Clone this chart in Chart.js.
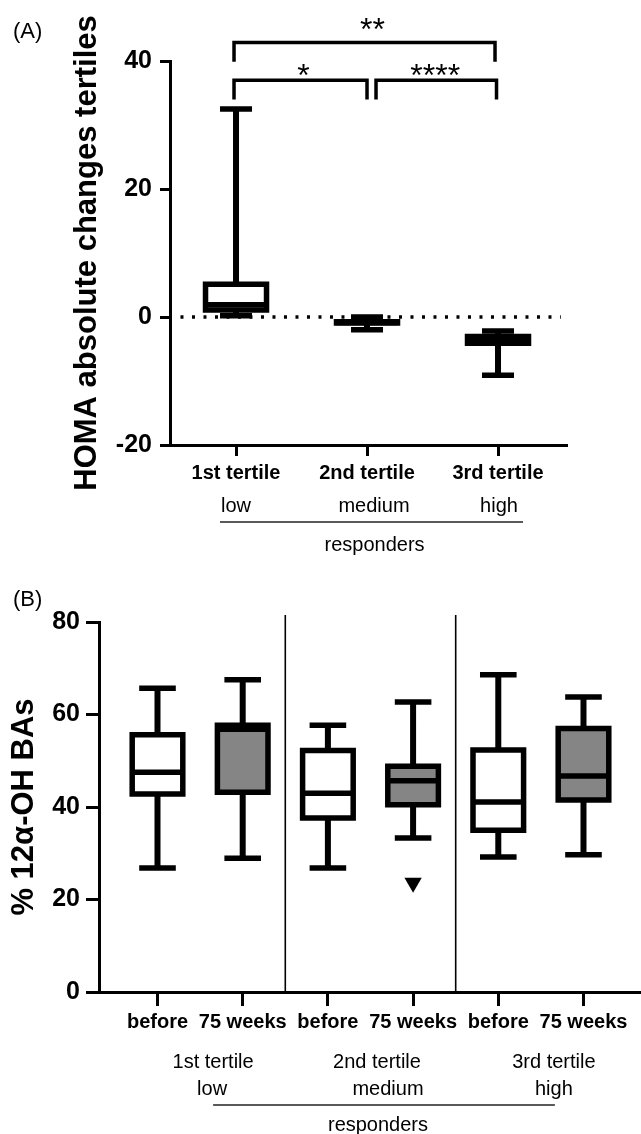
<!DOCTYPE html>
<html>
<head>
<meta charset="utf-8">
<script src="https://cdn.jsdelivr.net/npm/chart.js@4.4.0/dist/chart.umd.min.js"></script>
<style>
html,body{margin:0;padding:0;background:#fff;}
#wrap{position:relative;width:641px;height:1134px;overflow:hidden;background:#fff;}
canvas{position:absolute;left:0;}
#cA{top:0;}
#cB{top:560px;}
</style>
</head>
<body>
<div id="wrap">
<canvas id="cA" width="641" height="560"></canvas>
<canvas id="cB" width="641" height="574"></canvas>
</div>
<script>
// ---------- Panel A data: HOMA absolute changes by tertile ----------
const tertiles = ['1st tertile', '2nd tertile', '3rd tertile'];
const responderLevels = ['low', 'medium', 'high'];
const homaMin    = [0.2, -2.0, -9.1];
const homaQ1     = [1.1, -0.95, -4.1];
const homaMedian = [1.9, -0.85, -3.6];
const homaQ3     = [5.1, -0.75, -3.05];
const homaMax    = [32.5, 0.0, -2.2];
const homaTicks  = [-20, 0, 20, 40];
const comparisonFrom  = [1, 1, 2];
const comparisonTo    = [3, 2, 3];
const comparisonLabel = ['**', '*', '****'];

// ---------- Panel B data: % 12α-OH BAs ----------
const timepoints = ['before', '75 weeks', 'before', '75 weeks', 'before', '75 weeks'];
const tertileGroups = ['1st tertile', '2nd tertile', '3rd tertile'];
const baMin    = [26.8, 28.9, 26.8, 33.3, 29.2, 29.7];
const baQ1     = [42.8, 43.2, 37.6, 40.5, 35.0, 41.5];
const baMedian = [47.5, 56.8, 43.0, 45.7, 41.1, 46.7];
const baQ3     = [55.6, 57.7, 52.2, 48.8, 52.3, 57.0];
const baMax    = [65.7, 67.5, 57.7, 62.7, 68.6, 63.8];
const baOutlierGroup = [4];
const baOutlierValue = [23.6];
const baTicks  = [0, 20, 40, 60, 80];

// ---------- styling ----------
const FONT = "'Liberation Sans', Arial, Helvetica, sans-serif";
const GRAY = '#858585';
Chart.defaults.color = '#000';
Chart.defaults.font.family = FONT;

function boxplotDatasets(mins, q1s, meds, q3s, maxs, g) {
  const xs = mins.map((_, i) => i + 1);
  const whisk = [], caps = [], outline = [], med = [];
  xs.forEach((x, i) => {
    whisk.push({x, y: q3s[i]}, {x, y: maxs[i]}, {x, y: null},
               {x, y: q1s[i]}, {x, y: mins[i]}, {x, y: null});
    caps.push({x: x - g.cap, y: maxs[i]}, {x: x + g.cap, y: maxs[i]}, {x, y: null},
              {x: x - g.cap, y: mins[i]}, {x: x + g.cap, y: mins[i]}, {x, y: null});
    outline.push({x: x - g.hw, y: q1s[i]}, {x: x - g.hw, y: q3s[i]}, {x: x + g.hw, y: q3s[i]},
                 {x: x + g.hw, y: q1s[i]}, {x: x - g.hw, y: q1s[i]}, {x, y: null});
    med.push({x: x - g.hw, y: meds[i]}, {x: x + g.hw, y: meds[i]}, {x, y: null});
  });
  const line = (data, width, order, capStyle) => ({
    type: 'line', data, borderColor: '#000', borderWidth: width,
    pointRadius: 0, pointHoverRadius: 0, fill: false, tension: 0,
    spanGaps: false, borderCapStyle: capStyle || 'butt', borderJoinStyle: 'miter', order
  });
  return [
    {type: 'bar', data: xs.map((x, i) => ({x, y: [q1s[i], q3s[i]]})),
     backgroundColor: xs.map((_, i) => g.fill(i)), borderWidth: 0,
     barThickness: g.thickness, order: 40},
    line(whisk, g.wlw, 30),
    line(outline, g.lw, 20, 'square'),
    line(med, g.lw, 10),
    line(caps, g.lw, 10)
  ];
}

function axisCommon(extra) {
  return Object.assign({
    border: {display: true, color: '#000', width: 3},
    grid: {drawOnChartArea: false, drawTicks: true, color: '#000', lineWidth: 3, offset: false}
  }, extra);
}

// ---------------- Chart A ----------------
const xMinA = 0.496, xMaxA = 3.519;
const annotA = {
  id: 'annotA',
  afterDraw(chart) {
    const {ctx, chartArea: ca, scales: {x, y}} = chart;
    ctx.save();
    ctx.fillStyle = '#000';
    ctx.strokeStyle = '#000';
    // panel letter
    ctx.font = `22px ${FONT}`;
    ctx.textAlign = 'left';
    ctx.textBaseline = 'middle';
    ctx.fillText('(A)', 13, 32);
    // y-axis title
    ctx.save();
    ctx.translate(96, (ca.top + ca.bottom) / 2);
    ctx.rotate(-Math.PI / 2);
    ctx.font = `bold 31px ${FONT}`;
    ctx.textAlign = 'center';
    ctx.textBaseline = 'alphabetic';
    ctx.fillText('HOMA absolute changes tertiles', 0, 0);
    ctx.restore();
    // significance brackets
    const levels = [42.9, 37.0, 37.0];
    const legDrop = 3.0;
    const offs = [[-2, -3], [-2, 0], [9, -1.5]];
    const starDx = [8, 3, -1];
    const starDy = [-20, -12.5, -12];
    ctx.lineWidth = 3.5;
    ctx.lineCap = 'butt';
    ctx.lineJoin = 'miter';
    comparisonFrom.forEach((f, i) => {
      const x1 = x.getPixelForValue(f) + offs[i][0];
      const x2 = x.getPixelForValue(comparisonTo[i]) + offs[i][1];
      const yt = y.getPixelForValue(levels[i]);
      const yl = y.getPixelForValue(levels[i] - legDrop);
      ctx.beginPath();
      ctx.moveTo(x1, yl); ctx.lineTo(x1, yt); ctx.lineTo(x2, yt); ctx.lineTo(x2, yl);
      ctx.stroke();
      ctx.font = `32px ${FONT}`;
      ctx.textAlign = 'center';
      ctx.textBaseline = 'alphabetic';
      ctx.fillText(comparisonLabel[i], (x1 + x2) / 2 + starDx[i], yt + starDy[i] + 18);
    });
    // responder level labels
    ctx.font = `20px ${FONT}`;
    ctx.textAlign = 'center';
    ctx.textBaseline = 'middle';
    const lvlDx = [0, 7, 1];
    responderLevels.forEach((t, i) => {
      ctx.fillText(t, x.getPixelForValue(i + 1) + lvlDx[i], ca.bottom + 61);
    });
    const lx1 = x.getPixelForValue(1) - 16, lx2 = x.getPixelForValue(3) + 25;
    ctx.strokeStyle = '#222';
    ctx.lineWidth = 1.5;
    ctx.beginPath();
    ctx.moveTo(lx1, ca.bottom + 77); ctx.lineTo(lx2, ca.bottom + 77);
    ctx.stroke();
    ctx.fillText('responders', (lx1 + lx2) / 2 + 3, ca.bottom + 100);
    ctx.restore();
  }
};

const dsA = boxplotDatasets(homaMin, homaQ1, homaMedian, homaQ3, homaMax, {
  hw: 30.5 / 131, cap: 16 / 131, lw: 5.5, wlw: 6, thickness: 61, fill: () => '#fff'
});
dsA.push({
  type: 'line', data: [{x: xMinA + 0.08, y: 0}, {x: xMaxA - 0.04, y: 0}],
  borderColor: '#000', borderWidth: 3.5, borderDash: [3, 8.5], borderCapStyle: 'butt',
  pointRadius: 0, fill: false, order: 50
});

new Chart(document.getElementById('cA'), {
  type: 'bar',
  data: {datasets: dsA},
  options: {
    responsive: false, animation: false,
    layout: {autoPadding: false, padding: {left: 0, top: 61, right: 75, bottom: 0}},
    plugins: {legend: {display: false}, tooltip: {enabled: false}},
    scales: {
      x: axisCommon({
        type: 'linear', min: xMinA, max: xMaxA, offset: false,
        grid: {drawOnChartArea: false, drawTicks: true, color: '#000', lineWidth: 3, offset: false, tickLength: 11},
        afterBuildTicks: s => { s.ticks = tertiles.map((_, i) => ({value: i + 1})); },
        afterFit: s => { s.height = 115; s.paddingLeft = 0; s.paddingRight = 0; },
        ticks: {autoSkip: false, maxRotation: 0, minRotation: 0, padding: 5,
                font: {size: 20, weight: 'bold', family: FONT}, color: '#000',
                callback: v => tertiles[v - 1]}
      }),
      y: axisCommon({
        type: 'linear', min: -20, max: 40,
        grid: {drawOnChartArea: false, drawTicks: true, color: '#000', lineWidth: 3, tickLength: 10},
        afterBuildTicks: s => { s.ticks = homaTicks.map(v => ({value: v})); },
        afterFit: s => { s.width = 170; s.paddingTop = 0; s.paddingBottom = 0; },
        ticks: {padding: 8, font: {size: 25, weight: 'bold', family: FONT}, color: '#000',
                callback: v => String(v)}
      })
    }
  },
  plugins: [annotA]
});

// ---------------- Chart B ----------------
const xMinB = 0.3134, xMaxB = 6.675;
const annotB = {
  id: 'annotB',
  afterDraw(chart) {
    const {ctx, chartArea: ca, scales: {x, y}} = chart;
    ctx.save();
    ctx.fillStyle = '#000';
    ctx.strokeStyle = '#000';
    ctx.font = `22px ${FONT}`;
    ctx.textAlign = 'left';
    ctx.textBaseline = 'middle';
    ctx.fillText('(B)', 13, 40);
    // y-axis title
    ctx.save();
    ctx.translate(33, (ca.top + ca.bottom) / 2);
    ctx.rotate(-Math.PI / 2);
    ctx.font = `bold 31px ${FONT}`;
    ctx.textAlign = 'center';
    ctx.textBaseline = 'alphabetic';
    ctx.fillText('% 12\u03B1-OH BAs', 0, 0);
    ctx.restore();
    // separators between tertiles
    ctx.lineWidth = 1.6;
    [2.5, 4.5].forEach(v => {
      const px = x.getPixelForValue(v);
      ctx.beginPath();
      ctx.moveTo(px, ca.top - 7); ctx.lineTo(px, ca.bottom);
      ctx.stroke();
    });
    // group labels
    ctx.font = `20px ${FONT}`;
    ctx.textAlign = 'center';
    ctx.textBaseline = 'middle';
    const mid = i => (x.getPixelForValue(2 * i + 1) + x.getPixelForValue(2 * i + 2)) / 2;
    const tDx = [13, 6.5, 13], lDx = [12, 17.5, 13];
    tertileGroups.forEach((t, i) => ctx.fillText(t, mid(i) + tDx[i], ca.bottom + 70));
    responderLevels.forEach((t, i) => ctx.fillText(t, mid(i) + lDx[i], ca.bottom + 97));
    const lx1 = mid(0) + 13, lx2 = mid(2) + 14;
    ctx.strokeStyle = '#222';
    ctx.lineWidth = 1.5;
    ctx.beginPath();
    ctx.moveTo(lx1, ca.bottom + 113); ctx.lineTo(lx2, ca.bottom + 113);
    ctx.stroke();
    ctx.fillText('responders', (lx1 + lx2) / 2 - 6, ca.bottom + 133);
    ctx.restore();
  }
};

const dsB = boxplotDatasets(baMin, baQ1, baMedian, baQ3, baMax, {
  hw: 25.3 / 85.2, cap: 18.3 / 85.2, lw: 5.5, wlw: 6, thickness: 50.6,
  fill: i => (i % 2 ? GRAY : '#fff')
});
dsB.push({
  type: 'line', showLine: false,
  data: baOutlierGroup.map((g, i) => ({x: g, y: baOutlierValue[i]})),
  pointStyle: 'triangle', rotation: 180, pointRadius: 10, pointHoverRadius: 10,
  pointBackgroundColor: '#000', pointBorderColor: '#000', pointBorderWidth: 0, order: 5
});

new Chart(document.getElementById('cB'), {
  type: 'bar',
  data: {datasets: dsB},
  options: {
    responsive: false, animation: false,
    layout: {autoPadding: false, padding: {left: 0, top: 62, right: 0, bottom: 0}},
    plugins: {legend: {display: false}, tooltip: {enabled: false}},
    scales: {
      x: axisCommon({
        type: 'linear', min: xMinB, max: xMaxB, offset: false,
        grid: {drawOnChartArea: false, drawTicks: true, color: '#000', lineWidth: 3, offset: false, tickLength: 14},
        afterBuildTicks: s => { s.ticks = timepoints.map((_, i) => ({value: i + 1})); },
        afterFit: s => { s.height = 142; s.paddingLeft = 0; s.paddingRight = 0; },
        ticks: {autoSkip: false, maxRotation: 0, minRotation: 0, padding: 4,
                font: {size: 20, weight: 'bold', family: FONT}, color: '#000',
                callback: v => timepoints[v - 1]}
      }),
      y: axisCommon({
        type: 'linear', min: 0, max: 80,
        grid: {drawOnChartArea: false, drawTicks: true, color: '#000', lineWidth: 3, tickLength: 13},
        afterBuildTicks: s => { s.ticks = baTicks.map(v => ({value: v})); },
        afterFit: s => { s.width = 99; s.paddingTop = 0; s.paddingBottom = 0; },
        ticks: {padding: 6, font: {size: 25, weight: 'bold', family: FONT}, color: '#000',
                callback: v => String(v)}
      })
    }
  },
  plugins: [annotB]
});
</script>
</body>
</html>
